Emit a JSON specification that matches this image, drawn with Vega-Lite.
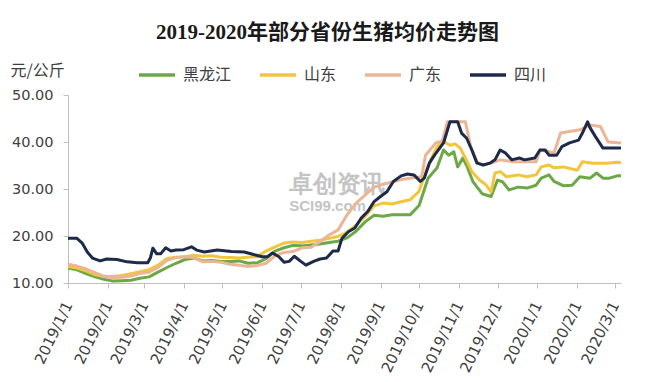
{
  "$schema": "https://vega.github.io/schema/vega-lite/v6.json",
  "width": 553,
  "height": 188,
  "autosize": {"type": "none"},
  "padding": {"left": 68, "top": 95, "right": 29, "bottom": 99},
  "background": "white",
  "config": {"view": {"stroke": null}},
  "title": {
    "text": "2019-2020年部分省份生猪均价走势图",
    "font": "Liberation Serif, Noto Sans CJK SC",
    "fontSize": 21,
    "fontWeight": "bold",
    "color": "#1a1a1a",
    "anchor": "middle",
    "frame": "group",
    "dx": -17,
    "offset": 12
  },
  "datasets": {
    "wm": [
      {"d": "2019-06-22", "v": 30.9, "t": "卓创资讯", "k": "a"},
      {"d": "2019-06-22", "v": 26.4, "t": "SCI99.com", "k": "b"}
    ]
  },
  "data": {
    "values": [
      {"d":"2019-01-01","s":"黑龙江","v":13.2},{"d":"2019-01-08","s":"黑龙江","v":12.8},{"d":"2019-01-15","s":"黑龙江","v":12.0},{"d":"2019-01-22","s":"黑龙江","v":11.3},{"d":"2019-01-29","s":"黑龙江","v":10.8},{"d":"2019-02-05","s":"黑龙江","v":10.4},{"d":"2019-02-12","s":"黑龙江","v":10.5},{"d":"2019-02-19","s":"黑龙江","v":10.6},{"d":"2019-02-26","s":"黑龙江","v":11.0},{"d":"2019-03-05","s":"黑龙江","v":11.3},{"d":"2019-03-12","s":"黑龙江","v":12.3},{"d":"2019-03-19","s":"黑龙江","v":13.3},{"d":"2019-03-26","s":"黑龙江","v":14.2},{"d":"2019-04-02","s":"黑龙江","v":15.0},{"d":"2019-04-09","s":"黑龙江","v":15.3},{"d":"2019-04-16","s":"黑龙江","v":14.7},{"d":"2019-04-23","s":"黑龙江","v":14.8},{"d":"2019-04-30","s":"黑龙江","v":14.6},{"d":"2019-05-07","s":"黑龙江","v":14.6},{"d":"2019-05-14","s":"黑龙江","v":14.7},{"d":"2019-05-21","s":"黑龙江","v":14.2},{"d":"2019-05-28","s":"黑龙江","v":14.3},{"d":"2019-06-04","s":"黑龙江","v":15.2},{"d":"2019-06-11","s":"黑龙江","v":16.8},{"d":"2019-06-18","s":"黑龙江","v":17.5},{"d":"2019-06-25","s":"黑龙江","v":18.0},{"d":"2019-07-02","s":"黑龙江","v":17.9},{"d":"2019-07-09","s":"黑龙江","v":18.1},{"d":"2019-07-16","s":"黑龙江","v":18.3},{"d":"2019-07-23","s":"黑龙江","v":18.6},{"d":"2019-07-30","s":"黑龙江","v":18.9},{"d":"2019-08-06","s":"黑龙江","v":19.6},{"d":"2019-08-13","s":"黑龙江","v":21.0},{"d":"2019-08-20","s":"黑龙江","v":23.0},{"d":"2019-08-27","s":"黑龙江","v":24.4},{"d":"2019-09-03","s":"黑龙江","v":24.2},{"d":"2019-09-10","s":"黑龙江","v":24.5},{"d":"2019-09-17","s":"黑龙江","v":24.5},{"d":"2019-09-24","s":"黑龙江","v":24.5},{"d":"2019-10-01","s":"黑龙江","v":26.5},{"d":"2019-10-08","s":"黑龙江","v":32.3},{"d":"2019-10-15","s":"黑龙江","v":34.5},{"d":"2019-10-20","s":"黑龙江","v":38.3},{"d":"2019-10-24","s":"黑龙江","v":37.2},{"d":"2019-10-28","s":"黑龙江","v":37.9},{"d":"2019-10-31","s":"黑龙江","v":34.7},{"d":"2019-11-04","s":"黑龙江","v":36.6},{"d":"2019-11-07","s":"黑龙江","v":35.0},{"d":"2019-11-12","s":"黑龙江","v":31.5},{"d":"2019-11-19","s":"黑龙江","v":29.0},{"d":"2019-11-26","s":"黑龙江","v":28.4},{"d":"2019-12-01","s":"黑龙江","v":31.9},{"d":"2019-12-05","s":"黑龙江","v":31.5},{"d":"2019-12-10","s":"黑龙江","v":29.8},{"d":"2019-12-17","s":"黑龙江","v":30.4},{"d":"2019-12-24","s":"黑龙江","v":30.2},{"d":"2019-12-31","s":"黑龙江","v":30.8},{"d":"2020-01-04","s":"黑龙江","v":32.3},{"d":"2020-01-10","s":"黑龙江","v":33.0},{"d":"2020-01-14","s":"黑龙江","v":31.6},{"d":"2020-01-21","s":"黑龙江","v":30.7},{"d":"2020-01-28","s":"黑龙江","v":30.8},{"d":"2020-02-03","s":"黑龙江","v":32.6},{"d":"2020-02-11","s":"黑龙江","v":32.3},{"d":"2020-02-16","s":"黑龙江","v":33.4},{"d":"2020-02-21","s":"黑龙江","v":32.3},{"d":"2020-02-26","s":"黑龙江","v":32.3},{"d":"2020-03-03","s":"黑龙江","v":32.8},{"d":"2020-03-06","s":"黑龙江","v":32.8},
      {"d":"2019-01-01","s":"山东","v":13.5},{"d":"2019-01-08","s":"山东","v":13.2},{"d":"2019-01-15","s":"山东","v":12.6},{"d":"2019-01-22","s":"山东","v":11.8},{"d":"2019-01-29","s":"山东","v":11.4},{"d":"2019-02-05","s":"山东","v":11.4},{"d":"2019-02-12","s":"山东","v":11.6},{"d":"2019-02-19","s":"山东","v":12.0},{"d":"2019-02-26","s":"山东","v":12.4},{"d":"2019-03-05","s":"山东","v":12.8},{"d":"2019-03-12","s":"山东","v":13.8},{"d":"2019-03-19","s":"山东","v":15.2},{"d":"2019-03-26","s":"山东","v":15.5},{"d":"2019-04-02","s":"山东","v":15.6},{"d":"2019-04-09","s":"山东","v":15.9},{"d":"2019-04-16","s":"山东","v":15.7},{"d":"2019-04-23","s":"山东","v":15.8},{"d":"2019-04-30","s":"山东","v":15.5},{"d":"2019-05-07","s":"山东","v":15.4},{"d":"2019-05-14","s":"山东","v":15.3},{"d":"2019-05-21","s":"山东","v":15.5},{"d":"2019-05-28","s":"山东","v":15.6},{"d":"2019-06-04","s":"山东","v":16.8},{"d":"2019-06-11","s":"山东","v":17.7},{"d":"2019-06-18","s":"山东","v":18.5},{"d":"2019-06-25","s":"山东","v":18.7},{"d":"2019-07-02","s":"山东","v":18.6},{"d":"2019-07-09","s":"山东","v":18.9},{"d":"2019-07-16","s":"山东","v":19.1},{"d":"2019-07-23","s":"山东","v":19.5},{"d":"2019-07-30","s":"山东","v":19.9},{"d":"2019-08-06","s":"山东","v":20.8},{"d":"2019-08-13","s":"山东","v":22.3},{"d":"2019-08-20","s":"山东","v":24.2},{"d":"2019-08-27","s":"山东","v":26.4},{"d":"2019-09-03","s":"山东","v":27.0},{"d":"2019-09-10","s":"山东","v":26.8},{"d":"2019-09-17","s":"山东","v":27.3},{"d":"2019-09-24","s":"山东","v":27.7},{"d":"2019-10-01","s":"山东","v":29.5},{"d":"2019-10-08","s":"山东","v":35.0},{"d":"2019-10-15","s":"山东","v":39.0},{"d":"2019-10-20","s":"山东","v":40.1},{"d":"2019-10-25","s":"山东","v":39.3},{"d":"2019-10-29","s":"山东","v":39.6},{"d":"2019-11-02","s":"山东","v":38.7},{"d":"2019-11-06","s":"山东","v":36.6},{"d":"2019-11-11","s":"山东","v":33.7},{"d":"2019-11-17","s":"山东","v":31.9},{"d":"2019-11-22","s":"山东","v":30.9},{"d":"2019-11-26","s":"山东","v":29.4},{"d":"2019-11-29","s":"山东","v":33.4},{"d":"2019-12-03","s":"山东","v":33.7},{"d":"2019-12-08","s":"山东","v":32.6},{"d":"2019-12-17","s":"山东","v":33.0},{"d":"2019-12-24","s":"山东","v":32.6},{"d":"2019-12-31","s":"山东","v":33.0},{"d":"2020-01-04","s":"山东","v":34.7},{"d":"2020-01-10","s":"山东","v":35.1},{"d":"2020-01-14","s":"山东","v":34.5},{"d":"2020-01-21","s":"山东","v":34.7},{"d":"2020-02-01","s":"山东","v":34.0},{"d":"2020-02-05","s":"山东","v":35.8},{"d":"2020-02-13","s":"山东","v":35.5},{"d":"2020-02-24","s":"山东","v":35.5},{"d":"2020-03-03","s":"山东","v":35.7},{"d":"2020-03-06","s":"山东","v":35.6},
      {"d":"2019-01-01","s":"广东","v":14.0},{"d":"2019-01-08","s":"广东","v":13.6},{"d":"2019-01-15","s":"广东","v":13.0},{"d":"2019-01-22","s":"广东","v":12.2},{"d":"2019-01-29","s":"广东","v":11.4},{"d":"2019-02-05","s":"广东","v":11.1},{"d":"2019-02-12","s":"广东","v":11.2},{"d":"2019-02-19","s":"广东","v":11.5},{"d":"2019-02-26","s":"广东","v":12.0},{"d":"2019-03-05","s":"广东","v":12.3},{"d":"2019-03-12","s":"广东","v":13.3},{"d":"2019-03-19","s":"广东","v":14.8},{"d":"2019-03-26","s":"广东","v":15.4},{"d":"2019-04-02","s":"广东","v":15.6},{"d":"2019-04-09","s":"广东","v":15.4},{"d":"2019-04-16","s":"广东","v":14.5},{"d":"2019-04-23","s":"广东","v":14.6},{"d":"2019-04-30","s":"广东","v":14.4},{"d":"2019-05-07","s":"广东","v":14.0},{"d":"2019-05-14","s":"广东","v":13.8},{"d":"2019-05-21","s":"广东","v":13.5},{"d":"2019-05-28","s":"广东","v":13.7},{"d":"2019-06-04","s":"广东","v":14.2},{"d":"2019-06-11","s":"广东","v":15.8},{"d":"2019-06-18","s":"广东","v":16.5},{"d":"2019-06-25","s":"广东","v":16.7},{"d":"2019-07-02","s":"广东","v":17.5},{"d":"2019-07-09","s":"广东","v":17.6},{"d":"2019-07-16","s":"广东","v":18.8},{"d":"2019-07-23","s":"广东","v":20.2},{"d":"2019-07-30","s":"广东","v":21.3},{"d":"2019-08-06","s":"广东","v":24.5},{"d":"2019-08-13","s":"广东","v":27.0},{"d":"2019-08-20","s":"广东","v":28.7},{"d":"2019-08-27","s":"广东","v":30.4},{"d":"2019-09-03","s":"广东","v":31.0},{"d":"2019-09-10","s":"广东","v":31.5},{"d":"2019-09-17","s":"广东","v":32.0},{"d":"2019-09-24","s":"广东","v":32.3},{"d":"2019-10-03","s":"广东","v":32.6},{"d":"2019-10-06","s":"广东","v":37.2},{"d":"2019-10-14","s":"广东","v":39.8},{"d":"2019-10-19","s":"广东","v":40.2},{"d":"2019-10-23","s":"广东","v":44.3},{"d":"2019-11-06","s":"广东","v":44.3},{"d":"2019-11-10","s":"广东","v":39.2},{"d":"2019-11-15","s":"广东","v":35.8},{"d":"2019-11-19","s":"广东","v":35.1},{"d":"2019-11-26","s":"广东","v":35.5},{"d":"2019-12-03","s":"广东","v":36.2},{"d":"2019-12-13","s":"广东","v":35.8},{"d":"2019-12-31","s":"广东","v":35.8},{"d":"2020-01-03","s":"广东","v":38.3},{"d":"2020-01-14","s":"广东","v":37.7},{"d":"2020-01-19","s":"广东","v":41.9},{"d":"2020-02-03","s":"广东","v":42.6},{"d":"2020-02-11","s":"广东","v":43.6},{"d":"2020-02-19","s":"广东","v":43.3},{"d":"2020-02-25","s":"广东","v":40.0},{"d":"2020-03-06","s":"广东","v":39.8},
      {"d":"2019-01-01","s":"四川","v":19.5},{"d":"2019-01-08","s":"四川","v":19.5},{"d":"2019-01-12","s":"四川","v":18.5},{"d":"2019-01-16","s":"四川","v":16.6},{"d":"2019-01-20","s":"四川","v":15.3},{"d":"2019-01-26","s":"四川","v":14.7},{"d":"2019-01-31","s":"四川","v":15.1},{"d":"2019-02-08","s":"四川","v":15.0},{"d":"2019-02-16","s":"四川","v":14.5},{"d":"2019-02-24","s":"四川","v":14.3},{"d":"2019-03-04","s":"四川","v":14.3},{"d":"2019-03-06","s":"四川","v":15.3},{"d":"2019-03-08","s":"四川","v":17.4},{"d":"2019-03-11","s":"四川","v":16.2},{"d":"2019-03-14","s":"四川","v":16.2},{"d":"2019-03-18","s":"四川","v":17.5},{"d":"2019-03-22","s":"四川","v":16.8},{"d":"2019-03-26","s":"四川","v":17.0},{"d":"2019-04-01","s":"四川","v":17.1},{"d":"2019-04-07","s":"四川","v":17.7},{"d":"2019-04-11","s":"四川","v":17.0},{"d":"2019-04-17","s":"四川","v":16.6},{"d":"2019-04-27","s":"四川","v":17.0},{"d":"2019-05-08","s":"四川","v":16.7},{"d":"2019-05-18","s":"四川","v":16.6},{"d":"2019-05-26","s":"四川","v":16.0},{"d":"2019-06-01","s":"四川","v":15.6},{"d":"2019-06-05","s":"四川","v":15.6},{"d":"2019-06-09","s":"四川","v":16.4},{"d":"2019-06-14","s":"四川","v":15.6},{"d":"2019-06-18","s":"四川","v":14.4},{"d":"2019-06-22","s":"四川","v":14.6},{"d":"2019-06-26","s":"四川","v":15.7},{"d":"2019-07-01","s":"四川","v":14.6},{"d":"2019-07-05","s":"四川","v":13.8},{"d":"2019-07-11","s":"四川","v":14.6},{"d":"2019-07-16","s":"四川","v":15.1},{"d":"2019-07-21","s":"四川","v":15.3},{"d":"2019-07-26","s":"四川","v":16.8},{"d":"2019-07-30","s":"四川","v":16.8},{"d":"2019-08-02","s":"四川","v":19.5},{"d":"2019-08-07","s":"四川","v":20.9},{"d":"2019-08-12","s":"四川","v":21.7},{"d":"2019-08-17","s":"四川","v":23.8},{"d":"2019-08-22","s":"四川","v":25.2},{"d":"2019-08-27","s":"四川","v":27.3},{"d":"2019-09-01","s":"四川","v":28.4},{"d":"2019-09-06","s":"四川","v":29.4},{"d":"2019-09-11","s":"四川","v":31.6},{"d":"2019-09-17","s":"四川","v":32.8},{"d":"2019-09-22","s":"四川","v":33.2},{"d":"2019-09-27","s":"四川","v":33.0},{"d":"2019-10-02","s":"四川","v":31.6},{"d":"2019-10-05","s":"四川","v":32.3},{"d":"2019-10-09","s":"四川","v":35.5},{"d":"2019-10-13","s":"四川","v":37.2},{"d":"2019-10-20","s":"四川","v":39.8},{"d":"2019-10-25","s":"四川","v":44.3},{"d":"2019-10-31","s":"四川","v":44.3},{"d":"2019-11-03","s":"四川","v":41.9},{"d":"2019-11-07","s":"四川","v":40.8},{"d":"2019-11-11","s":"四川","v":38.3},{"d":"2019-11-15","s":"四川","v":35.5},{"d":"2019-11-20","s":"四川","v":35.1},{"d":"2019-11-25","s":"四川","v":35.5},{"d":"2019-11-29","s":"四川","v":36.2},{"d":"2019-12-03","s":"四川","v":38.3},{"d":"2019-12-07","s":"四川","v":37.7},{"d":"2019-12-12","s":"四川","v":36.2},{"d":"2019-12-18","s":"四川","v":36.6},{"d":"2019-12-22","s":"四川","v":36.2},{"d":"2019-12-30","s":"四川","v":36.6},{"d":"2020-01-03","s":"四川","v":38.3},{"d":"2020-01-07","s":"四川","v":38.3},{"d":"2020-01-10","s":"四川","v":37.2},{"d":"2020-01-16","s":"四川","v":37.2},{"d":"2020-01-20","s":"四川","v":39.0},{"d":"2020-01-26","s":"四川","v":39.8},{"d":"2020-02-02","s":"四川","v":40.4},{"d":"2020-02-05","s":"四川","v":41.9},{"d":"2020-02-09","s":"四川","v":44.3},{"d":"2020-02-11","s":"四川","v":43.0},{"d":"2020-02-15","s":"四川","v":41.2},{"d":"2020-02-21","s":"四川","v":38.7},{"d":"2020-03-06","s":"四川","v":38.7}
    ]
  },
  "layer": [
    {
      "data": {"name": "wm"},
      "mark": {"type": "text", "align": "left", "baseline": "middle", "color": "#c4c4c4", "fontWeight": "bold"},
      "encoding": {
        "x": {"field": "d", "type": "temporal"},
        "y": {"field": "v", "type": "quantitative"},
        "text": {"field": "t"},
        "size": {"field": "k", "type": "nominal", "scale": {"domain": ["a", "b"], "range": [24, 15]}, "legend": null}
      }
    },
    {
      "mark": {"type": "line", "strokeWidth": 3, "strokeJoin": "round"},
      "encoding": {
        "x": {
          "field": "d",
          "type": "temporal",
          "scale": {"type": "utc", "domain": [{"year": 2019, "month": 1, "date": 1, "utc": true}, {"year": 2020, "month": 3, "date": 6, "utc": true}]},
          "axis": {
            "title": null,
            "tickCount": {"interval": "month", "step": 1},
            "labelExpr": "utcFormat(datum.value, '%Y/%-m/%-d')",
            "labelAngle": -64,
            "labelAlign": "right",
            "labelBaseline": "middle",
            "labelFont": "DejaVu Sans",
            "labelFontSize": 15,
            "labelColor": "#404040",
            "labelPadding": 14,
            "labelOverlap": false,
            "labelFlush": false,
            "labelBound": false,
            "domainColor": "#bfbfbf",
            "tickColor": "#bfbfbf",
            "tickSize": 5,
            "grid": false
          }
        },
        "y": {
          "field": "v",
          "type": "quantitative",
          "scale": {"domain": [10, 50], "nice": false, "zero": false},
          "axis": {
            "title": "元/公斤",
            "titleAngle": 0,
            "titleX": -58,
            "titleY": -25,
            "titleAlign": "left",
            "titleBaseline": "middle",
            "titleFont": "Noto Sans CJK SC",
            "titleFontSize": 16,
            "titleFontWeight": "normal",
            "titleColor": "#404040",
            "values": [10, 15, 20, 25, 30, 35, 40, 45, 50],
            "format": ".2f",
            "labelFont": "DejaVu Sans",
            "labelFontSize": 14.5,
            "labelColor": "#404040",
            "labelPadding": 10,
            "domainColor": "#bfbfbf",
            "tickColor": "#bfbfbf",
            "tickSize": 5,
            "grid": false
          }
        },
        "color": {
          "field": "s",
          "type": "nominal",
          "scale": {"domain": ["黑龙江", "山东", "广东", "四川"], "range": ["#6CA845", "#F2C53D", "#EBB596", "#1E2A4A"]},
          "legend": {
            "title": null,
            "orient": "none",
            "direction": "horizontal",
            "legendX": 69,
            "legendY": -40,
            "gridAlign": "none",
            "symbolType": "stroke",
            "symbolSize": 1296,
            "symbolStrokeWidth": 3.5,
            "labelFont": "Noto Sans CJK SC",
            "labelFontSize": 16,
            "labelColor": "#404040",
            "labelOffset": 6,
            "columnPadding": 21
          }
        }
      }
    }
  ]
}
